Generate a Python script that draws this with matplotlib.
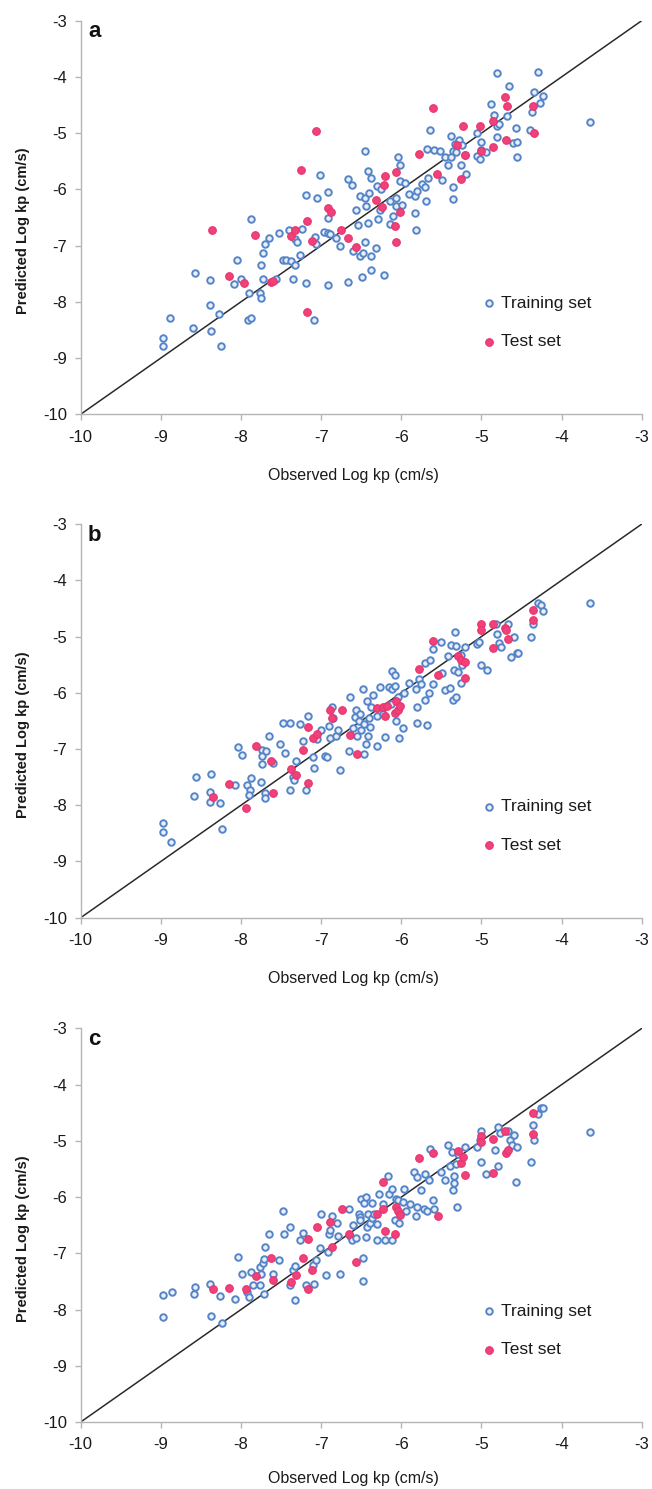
import matplotlib
matplotlib.use("Agg")
import matplotlib.pyplot as plt

plt.rcParams['font.family'] = ['Liberation Sans', 'DejaVu Sans']
plt.rcParams['axes.unicode_minus'] = False

# ---------------- data ----------------
ticks = [-10, -9, -8, -7, -6, -5, -4, -3]
panel_labels = ['a', 'b', 'c']
x_label = 'Observed Log kp (cm/s)'
y_label = 'Predicted Log kp (cm/s)'
legend_labels = ['Training set', 'Test set']

# Panel a
a_train_x = [-8.975, -8.975, -8.88, -8.60, -8.58, -8.39, -8.38, -8.39, -8.27, -8.25,
             -8.05, -8.09, -8.00, -7.87, -7.90, -7.91, -7.87, -7.76, -7.75, -7.75,
             -7.72, -7.70, -7.65, -7.72, -7.56, -7.52, -7.47, -7.44, -7.40, -7.38,
             -7.33, -7.32, -7.30, -7.35, -7.27, -7.24, -7.19, -7.19, -7.08, -7.05,
             -7.02, -7.06, -6.96, -6.92, -6.92, -6.92, -6.89, -6.91, -6.81, -6.77,
             -7.09, -6.66, -6.61, -6.66, -6.56, -6.54, -6.60, -6.52, -6.51, -6.49,
             -6.48, -6.45, -6.45, -6.44, -6.45, -6.42, -6.41, -6.38, -6.40, -6.38,
             -6.38, -6.32, -6.30, -6.29, -6.27, -6.21, -6.25, -6.14, -6.14, -6.10,
             -6.07, -6.06, -6.04, -6.01, -6.02, -5.99, -5.95, -5.90, -5.83, -5.83,
             -5.82, -5.80, -5.74, -5.71, -5.69, -5.67, -5.68, -5.64, -5.59, -5.52,
             -5.49, -5.46, -5.42, -5.38, -5.36, -5.38, -5.35, -5.36, -5.33, -5.32,
             -5.28, -5.26, -5.24, -5.21, -5.19, -5.06, -5.06, -5.02, -5.00, -5.00,
             -4.94, -4.88, -4.84, -4.80, -4.80, -4.81, -4.78, -4.68, -4.65, -4.61,
             -4.57, -4.55, -4.56, -4.37, -4.40, -4.34, -4.30, -4.27, -4.23, -3.65]
a_train_y = [-8.64, -8.79, -8.28, -8.46, -7.49, -8.05, -8.52, -7.62, -8.21, -8.78,
             -7.25, -7.68, -7.60, -6.53, -7.84, -8.33, -8.29, -7.84, -7.93, -7.34,
             -7.13, -6.98, -6.86, -7.60, -7.60, -6.78, -7.25, -7.25, -6.72, -7.28,
             -7.34, -6.89, -6.94, -7.60, -7.16, -6.71, -6.10, -7.67, -6.84, -6.16,
             -5.75, -6.98, -6.76, -6.05, -6.51, -6.78, -6.79, -7.70, -6.86, -7.00,
             -8.33, -5.81, -5.93, -7.65, -6.37, -6.63, -7.10, -6.12, -7.19, -7.56,
             -7.14, -5.31, -6.16, -6.30, -6.94, -5.68, -6.59, -5.80, -6.06, -7.19,
             -7.43, -7.04, -5.94, -6.53, -6.37, -7.53, -6.00, -6.21, -6.62, -6.48,
             -6.16, -6.30, -5.43, -5.56, -5.86, -6.27, -5.88, -6.08, -6.11, -6.42,
             -6.73, -6.03, -5.90, -5.96, -6.21, -5.79, -5.28, -4.95, -5.30, -5.31,
             -5.83, -5.42, -5.56, -5.05, -5.31, -5.42, -5.96, -6.18, -5.19, -5.33,
             -5.12, -5.57, -5.21, -5.39, -5.72, -5.00, -5.40, -5.46, -5.16, -5.30,
             -5.33, -4.49, -4.67, -3.93, -4.88, -5.07, -4.83, -4.70, -4.17, -5.18,
             -4.90, -5.15, -5.43, -4.62, -4.94, -4.26, -3.92, -4.46, -4.34, -4.81]
a_test_x = [-8.36, -8.15, -7.96, -7.83, -7.63, -7.60, -7.38, -7.32, -7.25, -7.18,
            -7.18, -7.12, -7.06, -6.91, -6.88, -6.75, -6.66, -6.56, -6.31, -6.24,
            -6.21, -6.20, -6.08, -6.06, -6.06, -6.01, -5.78, -5.60, -5.55, -5.30,
            -5.26, -5.23, -5.20, -5.02, -5.00, -4.85, -4.85, -4.71, -4.68, -4.69,
            -4.36, -4.34]
a_test_y = [-6.72, -7.54, -7.67, -6.82, -7.65, -7.63, -6.83, -6.72, -5.66, -6.57,
            -8.18, -6.91, -4.97, -6.33, -6.40, -6.72, -6.86, -7.02, -6.19, -6.31,
            -5.92, -5.77, -6.65, -5.69, -6.94, -6.41, -5.37, -4.55, -5.72, -5.21,
            -5.81, -4.88, -5.39, -4.87, -5.31, -4.78, -5.24, -4.35, -4.51, -5.13,
            -4.51, -4.99]

# Panel b
b_train_x = [-8.97, -8.97, -8.87, -8.59, -8.56, -8.37, -8.39, -8.39, -8.26, -8.24,
             -8.08, -8.04, -7.99, -7.93, -7.87, -7.89, -7.90, -7.75, -7.74, -7.74,
             -7.74, -7.69, -7.70, -7.70, -7.65, -7.60, -7.51, -7.45, -7.47, -7.39,
             -7.39, -7.35, -7.34, -7.31, -7.27, -7.23, -7.19, -7.17, -7.10, -7.09,
             -7.05, -7.00, -6.95, -6.93, -6.90, -6.89, -6.86, -6.85, -6.81, -6.79,
             -6.76, -6.65, -6.64, -6.60, -6.58, -6.56, -6.55, -6.53, -6.51, -6.50,
             -6.48, -6.47, -6.46, -6.43, -6.44, -6.41, -6.40, -6.39, -6.38, -6.35,
             -6.30, -6.30, -6.27, -6.23, -6.20, -6.15, -6.13, -6.11, -6.11, -6.08,
             -6.07, -6.08, -6.04, -6.03, -5.98, -5.97, -5.90, -5.82, -5.81, -5.81,
             -5.78, -5.75, -5.71, -5.70, -5.68, -5.66, -5.64, -5.61, -5.60, -5.51,
             -5.49, -5.45, -5.42, -5.39, -5.38, -5.35, -5.34, -5.33, -5.32, -5.32,
             -5.29, -5.26, -5.24, -5.25, -5.20, -5.06, -5.03, -5.01, -4.93, -4.82,
             -4.80, -4.78, -4.76, -4.67, -4.63, -4.59, -4.56, -4.54, -4.38, -4.36,
             -4.30, -4.26, -4.23, -3.64]
b_train_y = [-8.31, -8.47, -8.66, -7.83, -7.49, -7.44, -7.76, -7.95, -7.96, -8.43,
             -7.64, -6.97, -7.11, -7.64, -7.52, -7.73, -7.82, -7.58, -7.01, -7.12,
             -7.27, -7.03, -7.78, -7.88, -6.77, -7.25, -6.91, -7.07, -6.54, -6.53,
             -7.73, -7.49, -7.55, -7.21, -6.56, -6.85, -7.73, -6.41, -7.14, -7.33,
             -6.83, -6.66, -7.12, -7.15, -6.59, -6.81, -6.26, -6.44, -6.77, -6.67,
             -7.37, -7.03, -6.07, -6.62, -6.43, -6.30, -6.77, -6.50, -6.37, -6.66,
             -5.94, -7.09, -6.56, -6.14, -6.91, -6.77, -6.44, -6.60, -6.25, -6.04,
             -6.95, -6.41, -5.89, -6.37, -6.79, -5.89, -6.20, -5.62, -5.94, -5.88,
             -6.51, -5.69, -6.07, -6.81, -6.63, -6.01, -5.82, -5.94, -6.26, -6.53,
             -5.76, -5.85, -6.13, -5.47, -6.57, -6.00, -5.42, -5.85, -5.23, -5.09,
             -5.64, -5.95, -5.35, -5.92, -5.15, -6.13, -5.60, -4.92, -5.17, -6.07,
             -5.63, -5.33, -5.51, -5.82, -5.18, -5.14, -5.09, -5.51, -5.60, -4.77,
             -4.96, -5.11, -5.18, -4.78, -5.37, -5.01, -5.30, -5.29, -5.01, -4.77,
             -4.40, -4.43, -4.54, -4.40]
b_test_x = [-8.35, -8.15, -7.94, -7.81, -7.62, -7.60, -7.37, -7.31, -7.23, -7.17,
            -7.16, -7.10, -7.05, -6.89, -6.86, -6.74, -6.64, -6.55, -6.30, -6.23,
            -6.20, -6.18, -6.08, -6.06, -6.04, -6.01, -5.78, -5.60, -5.54, -5.29,
            -5.25, -5.21, -5.20, -5.01, -5.01, -4.85, -4.85, -4.71, -4.69, -4.67,
            -4.36, -4.36]
b_test_y = [-7.86, -7.62, -8.05, -6.95, -7.21, -7.78, -7.36, -7.47, -7.01, -6.60,
            -7.61, -6.81, -6.73, -6.31, -6.44, -6.30, -6.75, -7.09, -6.27, -6.25,
            -6.41, -6.24, -6.36, -6.14, -6.31, -6.24, -5.57, -5.07, -5.69, -5.35,
            -5.42, -5.45, -5.73, -4.78, -4.89, -4.78, -5.21, -4.84, -4.88, -5.05,
            -4.52, -4.70]

# Panel c
c_train_x = [-8.97, -8.97, -8.86, -8.59, -8.57, -8.39, -8.37, -8.26, -8.24, -8.08,
             -8.04, -7.99, -7.92, -7.90, -7.87, -7.85, -7.76, -7.76, -7.75, -7.73,
             -7.71, -7.70, -7.71, -7.65, -7.60, -7.53, -7.47, -7.46, -7.39, -7.39,
             -7.35, -7.32, -7.32, -7.27, -7.23, -7.19, -7.10, -7.09, -7.06, -7.02,
             -7.00, -6.94, -6.91, -6.90, -6.89, -6.87, -6.80, -6.79, -6.76, -6.65,
             -6.64, -6.61, -6.60, -6.56, -6.53, -6.52, -6.51, -6.50, -6.48, -6.48,
             -6.46, -6.44, -6.44, -6.43, -6.41, -6.39, -6.37, -6.36, -6.34, -6.30,
             -6.30, -6.28, -6.23, -6.20, -6.16, -6.15, -6.12, -6.11, -6.08, -6.07,
             -6.04, -6.03, -5.98, -5.97, -5.94, -5.89, -5.84, -5.82, -5.81, -5.80,
             -5.75, -5.72, -5.70, -5.68, -5.66, -5.64, -5.60, -5.59, -5.51, -5.46,
             -5.42, -5.39, -5.37, -5.35, -5.34, -5.34, -5.31, -5.32, -5.29, -5.20,
             -5.06, -5.02, -5.01, -5.01, -4.94, -4.83, -4.79, -4.79, -4.77, -4.67,
             -4.64, -4.62, -4.59, -4.56, -4.57, -4.38, -4.36, -4.34, -4.30, -4.26,
             -4.23, -3.64]
c_train_y = [-7.75, -8.13, -7.69, -7.73, -7.59, -7.54, -8.12, -7.76, -8.24, -7.82,
             -7.07, -7.37, -7.69, -7.78, -7.33, -7.57, -7.57, -7.24, -7.36, -7.18,
             -7.72, -6.89, -7.10, -6.66, -7.37, -7.11, -6.25, -6.66, -6.54, -7.57,
             -7.30, -7.83, -7.23, -6.76, -6.64, -7.57, -7.21, -7.54, -7.12, -6.90,
             -6.30, -7.39, -6.98, -6.65, -6.58, -6.33, -6.46, -6.70, -7.36, -6.21,
             -6.70, -6.76, -6.50, -6.72, -6.30, -6.36, -6.41, -6.03, -7.08, -7.49,
             -6.11, -5.99, -6.71, -6.54, -6.30, -6.46, -6.38, -6.11, -6.30, -6.76,
             -6.47, -5.94, -6.13, -6.76, -5.63, -5.94, -6.76, -5.85, -6.40, -6.03,
             -6.06, -6.46, -6.09, -5.85, -6.24, -6.13, -5.56, -6.33, -5.65, -6.17,
             -5.87, -6.21, -5.59, -6.24, -5.69, -5.14, -6.06, -6.21, -5.56, -5.69,
             -5.08, -5.44, -5.20, -5.88, -5.75, -5.62, -6.18, -5.41, -5.24, -5.11,
             -5.11, -4.99, -4.82, -5.38, -5.59, -5.17, -5.44, -4.76, -4.86, -4.82,
             -4.99, -5.08, -4.89, -5.11, -5.73, -5.38, -4.71, -4.99, -4.53, -4.41,
             -4.41, -4.85]
c_test_x = [-8.35, -8.15, -7.94, -7.81, -7.62, -7.60, -7.37, -7.31, -7.23, -7.16,
            -7.16, -7.12, -7.05, -6.89, -6.86, -6.74, -6.65, -6.56, -6.30, -6.23,
            -6.23, -6.20, -6.08, -6.06, -6.04, -6.01, -5.78, -5.60, -5.54, -5.29,
            -5.25, -5.23, -5.20, -5.01, -5.01, -4.85, -4.85, -4.71, -4.69, -4.67,
            -4.36, -4.36]
c_test_y = [-7.63, -7.61, -7.63, -7.41, -7.09, -7.48, -7.51, -7.39, -7.08, -6.74,
            -7.63, -7.30, -6.54, -6.44, -6.88, -6.22, -6.66, -7.15, -6.30, -5.73,
            -6.21, -6.60, -6.66, -6.18, -6.24, -6.31, -5.30, -5.22, -6.34, -5.18,
            -5.40, -5.29, -5.60, -4.91, -5.02, -4.96, -5.57, -4.83, -5.22, -5.17,
            -4.51, -4.88]

panels = [
    (a_train_x, a_train_y, a_test_x, a_test_y),
    (b_train_x, b_train_y, b_test_x, b_test_y),
    (c_train_x, c_train_y, c_test_x, c_test_y),
]

# ---------------- figure ----------------
fig = plt.figure(figsize=(6.52, 14.89), dpi=100)
bottoms = [0.7218, 0.3837, 0.0450]
xlabel_y = [-0.1364, -0.1364, -0.1245]

train_edge = '#5585c8'
train_face = '#eaf0fa'
test_color = '#f0417a'
spine_col = '#b5b5b5'
text_col = '#1a1a1a'

for i, (trx, tr_y, tex, tey) in enumerate(panels):
    ax = fig.add_axes([0.1238, bottoms[i], 0.8604, 0.2643])
    ax.plot([ticks[0], ticks[-1]], [ticks[0], ticks[-1]], color='#2a2a2a', lw=1.1, zorder=1)
    ax.scatter(trx, tr_y, s=22, facecolor=train_face, edgecolor=train_edge,
               linewidth=1.4, zorder=3, label=legend_labels[0])
    ax.scatter(tex, tey, s=30, facecolor=test_color, edgecolor='#e8336c',
               linewidth=0.8, zorder=4, label=legend_labels[1])
    ax.set_xlim(ticks[0], ticks[-1])
    ax.set_ylim(ticks[0], ticks[-1])
    ax.set_xticks(ticks)
    ax.set_yticks(ticks)
    ax.spines['top'].set_visible(False)
    ax.spines['right'].set_visible(False)
    for sp in ('left', 'bottom'):
        ax.spines[sp].set_color(spine_col)
        ax.spines[sp].set_linewidth(1.0)
    ax.tick_params(axis='both', direction='out', length=4, width=1.0, color=spine_col,
                   labelcolor=text_col, labelsize=12)
    ax.tick_params(axis='x', pad=7)
    ax.tick_params(axis='y', pad=6)
    ax.set_xlabel(x_label, fontsize=11.5, color=text_col)
    ax.set_ylabel(y_label, fontsize=10.5, fontweight='bold', color=text_col)
    ax.xaxis.set_label_coords(0.4854, xlabel_y[i])
    ax.yaxis.set_label_coords(-0.090, 0.466)
    ax.text(0.013, 0.998, panel_labels[i], transform=ax.transAxes, fontsize=16,
            fontweight='bold', va='top', ha='left', color='#111111')
    leg = ax.legend(loc='center left', bbox_to_anchor=(0.715, 0.233), frameon=False,
                    fontsize=12.5, handlelength=0.8, handletextpad=0.3,
                    borderpad=0, borderaxespad=0, labelspacing=1.35, scatterpoints=1,
                    markerscale=1.0)
    for t in leg.get_texts():
        t.set_color(text_col)

fig.savefig('out.png', dpi=100, facecolor='white')
